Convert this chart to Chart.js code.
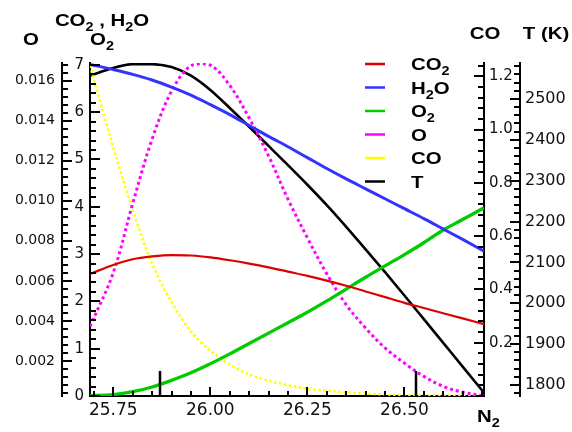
<!DOCTYPE html>
<html>
<head>
<meta charset="utf-8">
<script src="https://cdn.jsdelivr.net/npm/chart.js@4.4.0/dist/chart.umd.min.js"></script>
<style>
  html, body { margin: 0; padding: 0; background: #fff; }
  #wrap { width: 572px; height: 432px; }
</style>
</head>
<body>
<div id="wrap"><canvas id="flame" width="572" height="432"></canvas></div>
<script>
// N2 moles along the profile
const n2 = [25.69, 25.75, 25.80, 25.85, 25.90, 25.95, 26.00, 26.05, 26.10, 26.15, 26.20,
            26.25, 26.30, 26.35, 26.40, 26.45, 26.50, 26.55, 26.60, 26.65, 26.705];

// species (left axes) and CO / temperature (right axes)
const co2 = [2.58, 2.77, 2.89, 2.95, 2.98, 2.97, 2.93, 2.87, 2.80, 2.72, 2.63,
             2.54, 2.44, 2.33, 2.21, 2.09, 1.97, 1.86, 1.75, 1.64, 1.52];
const h2o = [7.01, 6.90, 6.80, 6.68, 6.53, 6.36, 6.16, 5.95, 5.72, 5.49, 5.27,
             5.04, 4.81, 4.59, 4.38, 4.17, 3.96, 3.75, 3.53, 3.31, 3.06];
const o2 = [0.01, 0.03, 0.09, 0.19, 0.33, 0.49, 0.68, 0.89, 1.11, 1.33, 1.55,
            1.77, 2.01, 2.26, 2.51, 2.75, 2.99, 3.24, 3.51, 3.73, 3.98];
const oAtom = [0.00372, 0.00641, 0.00986, 0.01308, 0.01547, 0.01674, 0.01677, 0.01576, 0.01413, 0.01224, 0.01008,
               0.00815, 0.00635, 0.00481, 0.00364, 0.00265, 0.00189, 0.00123, 0.00073, 0.00044, 0.00025];
const co = [1.24, 0.933, 0.698, 0.496, 0.353, 0.242, 0.170, 0.118, 0.081, 0.057, 0.041,
            0.027, 0.020, 0.014, 0.009, 0.006, 0.003, 0.002, 0.001, 0.0005, 0.0003];
const temp = [2557, 2576, 2585, 2585, 2578, 2557, 2522, 2478, 2432, 2385, 2338,
              2290, 2240, 2187, 2132, 2076, 2019, 1961, 1903, 1845, 1781];

// tick labels
const n2Ticks = [25.75, 26.00, 26.25, 26.50];
const oTicks = [0.002, 0.004, 0.006, 0.008, 0.010, 0.012, 0.014, 0.016];
const mainTicks = [0, 1, 2, 3, 4, 5, 6, 7];
const coTicks = [0.2, 0.4, 0.6, 0.8, 1.0, 1.2];
const tTicks = [1800, 1900, 2000, 2100, 2200, 2300, 2400, 2500];

// marked N2 positions on the bottom axis
const markN2 = [25.871, 26.531];

const pts = ys => n2.map((x, i) => ({ x: x, y: ys[i] }));

const tickFont = size => ({ family: '"DejaVu Sans", sans-serif', size: size });

function fixedTicks(list) {
  return s => { s.ticks = list.map(v => ({ value: v })); };
}

// minor/major tick marks, drawn pointing into the plot
const tickDefs = {
  yO:    { step: 0.0004, side: 'left',   major: 10, minor: 6 },
  yMain: { step: 0.2,    side: 'left',   major: 10, minor: 6 },
  yCO:   { step: 0.04,   side: 'right',  major: 10, minor: 6 },
  yT:    { step: 20,     side: 'right',  major: 10, minor: 6 },
  x:     { step: 0.05,   side: 'bottom', major: 9,  minor: 5 }
};

function drawRich(ctx, parts, x, y, align) {
  const big = 'bold 17px "Liberation Sans", Arial, sans-serif';
  const small = 'bold 12px "Liberation Sans", Arial, sans-serif';
  ctx.save();
  ctx.translate(x, y);
  ctx.scale(1.2, 1);
  ctx.fillStyle = '#000';
  ctx.textAlign = 'left';
  ctx.textBaseline = 'alphabetic';
  let w = 0;
  for (const [txt, sub] of parts) {
    ctx.font = sub ? small : big;
    w += ctx.measureText(txt).width;
  }
  let cx = align === 'center' ? -w / 2 : 0;
  for (const [txt, sub] of parts) {
    ctx.font = sub ? small : big;
    ctx.fillText(txt, cx, sub ? 5 : 0);
    cx += ctx.measureText(txt).width;
  }
  ctx.restore();
}

const decorations = {
  id: 'decorations',
  afterDraw(chart) {
    const ctx = chart.ctx;
    ctx.save();
    ctx.strokeStyle = '#000';
    ctx.lineWidth = 2;
    for (const id in tickDefs) {
      const s = chart.scales[id];
      const def = tickDefs[id];
      const majors = s.ticks.map(t => t.value);
      const first = Math.ceil(s.min / def.step - 1e-6);
      const last = Math.floor(s.max / def.step + 1e-6);
      for (let k = first; k <= last; k++) {
        const v = k * def.step;
        const isMajor = majors.some(m => Math.abs(m - v) < def.step / 10);
        const len = isMajor ? def.major : def.minor;
        const p = Math.round(s.getPixelForValue(v));
        ctx.beginPath();
        if (def.side === 'left') {
          ctx.moveTo(s.right, p); ctx.lineTo(s.right + len, p);
        } else if (def.side === 'right') {
          ctx.moveTo(s.left, p); ctx.lineTo(s.left - len, p);
        } else {
          ctx.moveTo(p, s.top); ctx.lineTo(p, s.top - len);
        }
        ctx.stroke();
      }
    }
    // tall marks on the N2 axis
    const xs = chart.scales.x;
    ctx.lineWidth = 2.5;
    for (const m of markN2) {
      const p = Math.round(xs.getPixelForValue(m));
      ctx.beginPath();
      ctx.moveTo(p, xs.top);
      ctx.lineTo(p, xs.top - 25);
      ctx.stroke();
    }

    // legend
    chart.data.datasets.forEach((ds, i) => {
      const y = 64 + i * 23.5;
      ctx.strokeStyle = ds.borderColor;
      ctx.lineWidth = 2.5;
      ctx.setLineDash([]);
      ctx.beginPath();
      ctx.moveTo(365, y);
      ctx.lineTo(385, y);
      ctx.stroke();
      drawRich(ctx, ds.legendParts, 411, y + 6, 'left');
    });
    ctx.restore();

    // axis titles
    drawRich(ctx, [['O', false]], 31, 45, 'center');
    drawRich(ctx, [['CO', false], ['2', true], [' , H', false], ['2', true], ['O', false]], 102, 26, 'center');
    drawRich(ctx, [['O', false], ['2', true]], 102, 45, 'center');
    drawRich(ctx, [['CO', false]], 485, 39, 'center');
    drawRich(ctx, [['T (K)', false]], 546, 39, 'center');
    drawRich(ctx, [['N', false], ['2', true]], 477, 422, 'left');
  }
};

new Chart(document.getElementById('flame'), {
  type: 'line',
  data: {
    datasets: [
      { label: 'CO2', legendParts: [['CO', false], ['2', true]], data: pts(co2), yAxisID: 'yMain',
        borderColor: '#dd0000', borderWidth: 2.2 },
      { label: 'H2O', legendParts: [['H', false], ['2', true], ['O', false]], data: pts(h2o), yAxisID: 'yMain',
        borderColor: '#3333ff', borderWidth: 3 },
      { label: 'O2', legendParts: [['O', false], ['2', true]], data: pts(o2), yAxisID: 'yMain',
        borderColor: '#00cc00', borderWidth: 3.3 },
      { label: 'O', legendParts: [['O', false]], data: pts(oAtom), yAxisID: 'yO',
        borderColor: '#ff00ff', borderWidth: 3, borderDash: [3, 3],
        cubicInterpolationMode: 'default', tension: 0.35 },
      { label: 'CO', legendParts: [['CO', false]], data: pts(co), yAxisID: 'yCO',
        borderColor: '#ffff00', borderWidth: 2.5, borderDash: [2.5, 2.5] },
      { label: 'T', legendParts: [['T', false]], data: pts(temp), yAxisID: 'yT',
        borderColor: '#000000', borderWidth: 2.6 }
    ]
  },
  options: {
    responsive: false,
    animation: false,
    devicePixelRatio: 1,
    layout: { padding: { top: 63, left: 0, right: 0, bottom: 0 } },
    elements: {
      point: { radius: 0, hoverRadius: 0 },
      line: { cubicInterpolationMode: 'monotone', fill: false }
    },
    plugins: { legend: { display: false }, tooltip: { enabled: false } },
    scales: {
      x: {
        type: 'linear', position: 'bottom', min: 25.69, max: 26.705,
        afterBuildTicks: fixedTicks(n2Ticks),
        afterFit: s => { s.height = 36; },
        grid: { display: false, drawTicks: false },
        border: { display: true, color: '#000', width: 2 },
        ticks: { padding: 4, color: '#111', font: tickFont(17), maxRotation: 0, autoSkip: false,
                 callback: v => v.toFixed(2) }
      },
      yO: {
        type: 'linear', position: 'left', weight: 2, min: 0.00025, max: 0.01688,
        afterBuildTicks: fixedTicks(oTicks),
        afterFit: s => { s.width = 62; },
        grid: { display: false, drawTicks: false },
        border: { display: true, color: '#000', width: 2 },
        ticks: { padding: 7, color: '#111', font: tickFont(14), callback: v => v.toFixed(3) }
      },
      yMain: {
        type: 'linear', position: 'left', weight: 1, min: 0, max: 7.04,
        afterBuildTicks: fixedTicks(mainTicks),
        afterFit: s => { s.width = 28; },
        grid: { display: false, drawTicks: false },
        border: { display: true, color: '#000', width: 2 },
        ticks: { padding: 6, color: '#111', font: tickFont(15), callback: v => String(v) }
      },
      yCO: {
        type: 'linear', position: 'right', weight: 1, min: 0, max: 1.25,
        afterBuildTicks: fixedTicks(coTicks),
        afterFit: s => { s.width = 36; },
        grid: { display: false, drawTicks: false },
        border: { display: true, color: '#000', width: 2 },
        ticks: { padding: 5, color: '#111', font: tickFont(15), callback: v => v.toFixed(1) }
      },
      yT: {
        type: 'linear', position: 'right', weight: 2, min: 1773, max: 2588,
        afterBuildTicks: fixedTicks(tTicks),
        afterFit: s => { s.width = 52; },
        grid: { display: false, drawTicks: false },
        border: { display: true, color: '#000', width: 2 },
        ticks: { padding: 5, color: '#111', font: tickFont(16), callback: v => String(v) }
      }
    }
  },
  plugins: [decorations]
});
</script>
</body>
</html>
